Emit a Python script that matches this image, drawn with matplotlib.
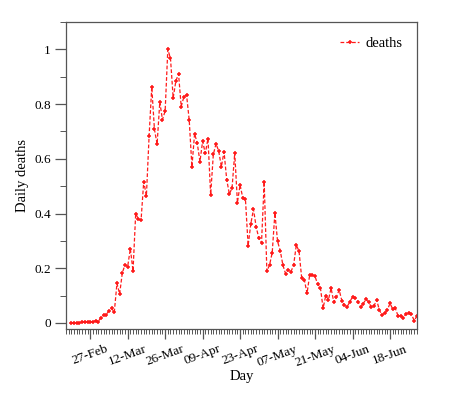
import numpy as np
import pandas as pd
import matplotlib
matplotlib.use('Agg')
import matplotlib.pyplot as plt
import matplotlib.dates as mdates
from matplotlib.ticker import MultipleLocator, FuncFormatter

plt.rcParams['font.family'] = ['Liberation Serif', 'DejaVu Serif']

# normalised daily deaths, one value per day starting 20-Feb
start_date = '2020-02-20'
deaths = [
    0.000, 0.001, 0.001, 0.001, 0.004, 0.003, 0.002, 0.005, 0.004, 0.009,
    # March
    0.005, 0.020, 0.029, 0.030, 0.045, 0.053, 0.039, 0.145, 0.106, 0.183,
    0.213, 0.206, 0.272, 0.190, 0.400, 0.380, 0.375, 0.517, 0.465, 0.682,
    0.863, 0.708, 0.654, 0.808, 0.743, 0.775, 1.000, 0.967, 0.823, 0.884,
    0.911,
    # April
    0.791, 0.827, 0.834, 0.741, 0.571, 0.692, 0.657, 0.590, 0.664, 0.620,
    0.674, 0.469, 0.616, 0.655, 0.629, 0.571, 0.626, 0.524, 0.471, 0.494,
    0.622, 0.440, 0.505, 0.457, 0.452, 0.283, 0.362, 0.416, 0.351, 0.310,
    # May
    0.293, 0.516, 0.189, 0.212, 0.257, 0.402, 0.298, 0.264, 0.211, 0.180,
    0.195, 0.187, 0.212, 0.285, 0.263, 0.166, 0.158, 0.108, 0.176, 0.175,
    0.170, 0.141, 0.129, 0.054, 0.100, 0.085, 0.127, 0.076, 0.095, 0.121,
    0.082,
    # June
    0.065, 0.060, 0.077, 0.096, 0.092, 0.078, 0.058, 0.071, 0.086, 0.077,
    0.058, 0.061, 0.085, 0.048, 0.028, 0.037, 0.047, 0.072, 0.051, 0.053,
    0.026, 0.025, 0.020, 0.033, 0.037, 0.033, 0.009, 0.024,
]
days = pd.date_range(start_date, periods=len(deaths), freq='D')

tick_dates = pd.date_range('2020-02-27', periods=9, freq='14D')
tick_labels = ['27-Feb', '12-Mar', '26-Mar', '09-Apr', '23-Apr',
               '07-May', '21-May', '04-Jun', '18-Jun']

fig = plt.figure(figsize=(4.59, 3.94), dpi=100)
ax = fig.add_axes([0.144, 0.165, 0.764, 0.779])

ax.plot(days, deaths, color='#ff1a1a', linestyle='--', dashes=(3, 1.6),
        linewidth=0.9, marker='+', markersize=3, markeredgewidth=1.1,
        label='deaths')

ax.set_xlim(pd.Timestamp('2020-02-18'), pd.Timestamp('2020-06-28'))
ax.set_ylim(-0.022, 1.1)

ax.set_xticks(tick_dates)
ax.set_xticklabels(tick_labels, rotation=20, ha='center')
ax.xaxis.set_minor_locator(mdates.DayLocator())
ax.yaxis.set_major_locator(MultipleLocator(0.2))
ax.yaxis.set_minor_locator(MultipleLocator(0.1))
ax.yaxis.set_major_formatter(FuncFormatter(lambda v, p: f'{v:g}'))

for s in ax.spines.values():
    s.set_color('#555555')
    s.set_linewidth(0.9)
ax.tick_params(axis='both', which='major', direction='out', length=8,
               width=0.9, color='#555555', labelsize=9.5, pad=3)
ax.tick_params(axis='both', which='minor', direction='out', length=4,
               width=0.7, color='#555555')
ax.tick_params(axis='x', which='major', length=7)
ax.tick_params(axis='x', which='minor', length=3.5)

ax.set_xlabel('Day', fontsize=10.5, labelpad=1)
ax.set_ylabel('Daily deaths', fontsize=10.5, labelpad=4)

ax.legend(loc='upper right', frameon=False, fontsize=10.5,
          handlelength=1.3, handletextpad=0.4, borderaxespad=0.6)

fig.savefig('out.png', dpi=100)
